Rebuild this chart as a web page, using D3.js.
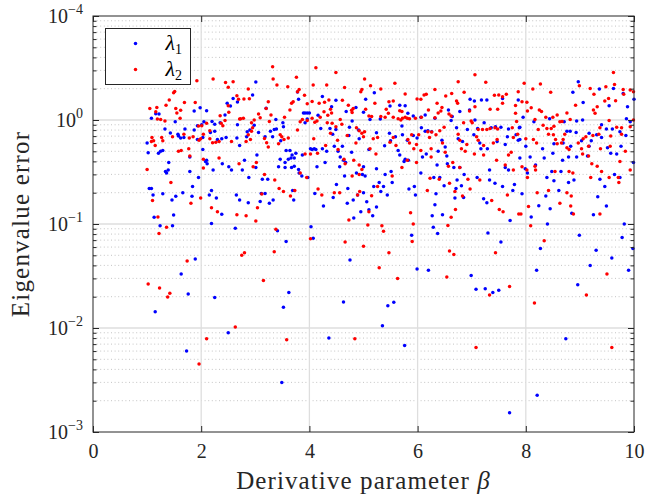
<!DOCTYPE html>
<html>
<head>
<meta charset="utf-8">
<script src="https://cdn.jsdelivr.net/npm/d3@7"></script>
<style>
  body { margin: 0; background: #fff; }
  svg { display: block; font-family: "Liberation Serif", "DejaVu Serif", serif; }
</style>
</head>
<body>
<div id="chart"></div>
<script>
// [beta, eigenvalue error]
const lambda1 = [
  [1.08,1.04],[1.16,1.15],[1.22,1.14],[1.52,0.96],[1.87,1.22],[1.98,1.31],[2.10,1.23],[2.48,1.45],[2.54,1.36],[2.59,1.61],
  [2.44,1.12],[2.35,0.94],[2.25,0.91],[2.20,0.97],[2.05,0.96],[2.01,0.90],[1.93,0.88],[1.87,0.80],[1.70,0.82],[1.33,0.82],
  [1.43,0.75],[1.57,0.73],[1.58,0.70],[1.62,0.67],[1.68,0.68],[1.93,0.65],[2.03,0.68],[2.17,0.76],[2.25,0.78],[2.30,0.65],
  [2.38,0.66],[2.46,0.68],[1.00,0.60],[1.02,0.485],[1.21,0.48],[1.25,0.50],[1.29,0.51],[1.40,0.39],[1.34,0.32],[1.36,0.31],
  [1.39,0.33],[1.79,0.44],[2.03,0.52],[2.08,0.40],[2.10,0.41],[2.11,0.38],[2.39,0.38],[2.51,0.355],[2.56,0.33],[1.79,0.32],
  [1.95,0.28],[2.22,0.33],[1.04,0.22],[1.08,0.22],[1.11,0.19],[1.29,0.195],[1.46,0.17],[1.53,0.185],[1.66,0.20],[1.84,0.23],
  [1.83,0.185],[2.15,0.19],[2.19,0.21],[2.28,0.178],[2.38,0.124],[1.49,0.122],[1.13,0.116],[1.24,0.096],[1.47,0.096],[2.19,0.101],
  [1.89,0.046],[1.63,0.033],
  [3.01,2.32],[2.95,1.74],[2.67,1.49],[3.20,1.30],[3.78,1.86],[3.80,1.58],[3.89,1.17],[3.92,1.17],[3.96,1.17],[4.00,1.17],
  [3.92,0.94],[3.96,1.02],[4.16,1.11],[4.24,1.68],[3.38,1.01],[3.51,0.94],[2.98,0.89],[3.06,0.76],[3.35,0.81],[3.39,0.82],
  [3.28,0.78],[3.32,0.69],[2.85,0.77],[2.90,0.80],[2.84,0.69],[2.66,0.67],[2.71,0.57],[2.67,0.90],[3.18,0.69],[3.47,0.63],
  [3.52,0.86],[3.64,0.51],[3.57,0.51],[3.66,0.43],[3.61,0.42],[3.68,0.46],[3.72,0.43],[3.75,0.48],[3.67,0.35],[3.55,0.39],
  [3.46,0.42],[3.43,0.355],[3.55,0.35],[3.80,0.335],[3.72,0.36],[3.81,0.31],[3.86,0.29],[3.97,0.28],[4.02,0.53],[4.05,0.52],
  [4.09,0.53],[4.12,0.52],[3.87,0.46],[4.14,0.355],[4.21,0.83],[4.24,0.53],[4.32,0.50],[4.29,0.39],[2.80,0.41],[2.76,0.33],
  [2.88,0.28],[3.03,0.46],[3.01,0.35],[3.13,0.27],[3.23,0.27],[2.65,0.19],[2.71,0.17],[2.87,0.16],[3.09,0.165],[3.11,0.197],
  [3.18,0.197],[3.26,0.158],[3.33,0.17],[3.71,0.17],[3.69,0.21],[4.10,0.197],[4.26,0.149],[2.63,0.091],[3.41,0.086],[3.57,0.068],
  [4.03,0.094],[4.07,0.073],
  [4.49,1.55],[5.04,1.58],[5.20,1.83],[5.49,1.36],[5.67,1.39],[5.77,1.37],[5.82,1.16],[5.92,1.09],[6.06,1.06],[4.41,1.34],
  [4.68,1.21],[4.86,1.32],[4.79,0.98],[5.00,1.19],[5.12,1.01],[5.31,1.02],[4.38,0.83],[4.49,0.81],[4.43,0.73],[4.74,0.85],
  [4.91,0.80],[4.73,0.71],[4.92,0.66],[5.24,0.755],[5.48,0.745],[5.59,0.69],[5.72,0.72],[5.71,0.875],[5.81,0.64],[5.92,0.71],
  [5.99,0.67],[6.07,0.84],[4.46,0.56],[4.61,0.56],[4.53,0.50],[4.78,0.49],[5.10,0.52],[5.39,0.565],[5.50,0.63],[5.64,0.51],
  [5.67,0.46],[5.77,0.42],[5.83,0.41],[5.75,0.40],[6.09,0.44],[4.63,0.41],[4.57,0.44],[4.67,0.39],[4.56,0.355],[4.65,0.29],
  [4.87,0.31],[4.98,0.30],[5.03,0.29],[5.00,0.355],[5.24,0.34],[5.40,0.30],[5.51,0.32],[5.53,0.25],[4.50,0.24],[4.71,0.22],
  [5.19,0.23],[5.29,0.25],[5.37,0.23],[5.32,0.205],[5.44,0.19],[5.84,0.217],[5.94,0.23],[5.96,0.19],[6.06,0.31],[4.44,0.18],
  [4.81,0.17],[4.89,0.19],[5.00,0.20],[5.06,0.164],[4.70,0.158],[4.95,0.131],[4.82,0.114],[5.17,0.12],[5.24,0.146],[5.10,0.137],
  [5.89,0.078],[5.99,0.037],[4.75,0.045],
  [6.97,1.58],[7.05,1.52],[7.18,1.56],[7.28,1.56],[7.57,1.61],[6.78,1.21],[6.96,1.25],[6.57,1.25],[6.64,1.08],[6.62,0.99],
  [6.32,1.04],[6.14,1.12],[7.06,1.00],[7.11,0.83],[7.23,0.94],[7.36,0.84],[7.44,0.86],[7.54,0.85],[7.68,0.82],[7.88,0.84],
  [7.86,1.56],[6.72,0.84],[6.92,0.81],[7.04,0.72],[6.75,0.66],[6.83,0.62],[6.45,0.64],[6.51,0.55],[6.38,0.50],[6.19,0.79],
  [6.14,0.78],[6.26,0.77],[7.15,0.60],[7.17,0.53],[7.29,0.53],[7.47,0.62],[7.62,0.58],[7.66,0.69],[7.82,0.72],[7.86,0.64],
  [6.16,0.47],[6.54,0.45],[6.36,0.37],[6.55,0.38],[6.67,0.35],[6.78,0.35],[7.33,0.33],[7.62,0.35],[7.68,0.33],[6.30,0.28],
  [6.41,0.28],[6.49,0.233],[6.71,0.22],[6.73,0.265],[6.81,0.233],[6.86,0.30],[7.10,0.28],[7.33,0.265],[7.43,0.246],[7.57,0.23],
  [7.79,0.24],[7.76,0.21],[6.34,0.195],[6.69,0.178],[6.85,0.18],[7.22,0.175],[7.28,0.16],[6.32,0.153],[6.27,0.12],[6.46,0.123],
  [7.71,0.108],[6.29,0.093],[6.37,0.081],[7.30,0.082],[7.54,0.067],[6.20,0.036],[6.99,0.032],
  [8.97,2.33],[8.87,1.85],[9.06,1.47],[9.36,1.99],[9.62,2.01],[9.80,1.80],[9.54,1.37],[9.88,1.34],[10.0,1.58],[7.95,1.06],
  [8.15,0.96],[8.44,1.03],[8.71,0.96],[9.05,1.00],[8.94,0.98],[9.40,0.90],[9.86,1.03],[9.93,0.96],[7.89,0.85],[8.76,0.78],
  [8.82,0.78],[8.93,0.76],[9.03,0.63],[9.17,0.745],[9.21,0.63],[9.31,0.72],[9.40,0.68],[9.60,0.82],[9.49,0.82],[9.74,0.77],
  [9.85,0.71],[7.89,0.65],[8.00,0.56],[8.31,0.53],[8.52,0.59],[8.50,0.48],[8.69,0.60],[8.83,0.56],[9.17,0.56],[9.14,0.45],
  [9.51,0.54],[9.57,0.48],[9.68,0.47],[9.76,0.56],[7.89,0.43],[8.08,0.44],[8.34,0.43],[8.68,0.41],[8.79,0.44],[8.94,0.44],
  [7.99,0.34],[8.03,0.31],[8.18,0.37],[8.39,0.28],[8.48,0.32],[8.52,0.26],[8.65,0.32],[8.79,0.25],[8.89,0.265],[9.37,0.27],
  [9.46,0.23],[9.64,0.30],[9.74,0.28],[7.93,0.195],[8.37,0.186],[8.61,0.21],[9.33,0.183],[9.49,0.149],[8.45,0.14],[8.10,0.117],
  [8.24,0.15],[8.85,0.127],[9.25,0.123],[8.40,0.10],[9.82,0.10],[8.99,0.078],[9.78,0.074],[8.27,0.058],[9.30,0.056],[9.59,0.047],
  [9.98,0.058],[9.19,0.040],[8.20,0.036],[9.90,0.036],[9.99,0.39],
  [1.15,0.0143],[1.76,0.0212],[2.25,0.0197],[1.73,0.0060],[2.50,0.0090],[3.52,0.0158],[3.62,0.0219],[3.49,0.0030],[4.63,0.0178],[4.36,0.0080],
  [5.35,0.0105],[5.45,0.0164],[5.56,0.0177],[5.76,0.0068],[7.08,0.0236],[7.25,0.0238],[7.39,0.0220],[7.50,0.0231],[7.70,0.00153],[8.21,0.00225],
  [8.74,0.0079],[8.96,0.0261]
];

const lambda2 = [
  [1.92,2.39],[2.22,2.48],[2.45,2.30],[2.59,2.33],[2.50,2.07],[1.49,1.83],[1.51,1.88],[1.41,1.56],[1.35,1.39],[1.69,1.47],
  [1.89,1.47],[1.05,1.29],[1.18,1.32],[1.16,1.20],[1.53,1.29],[1.62,1.24],[1.55,1.17],[2.50,1.37],[2.51,1.19],[2.35,1.10],
  [1.19,1.02],[1.25,1.01],[1.33,0.98],[1.61,1.04],[1.95,0.875],[2.01,0.88],[2.10,0.93],[2.37,0.93],[2.40,0.88],[2.44,0.99],
  [1.09,0.68],[1.12,0.63],[1.08,0.62],[1.27,0.68],[1.29,0.63],[1.47,0.69],[1.68,0.73],[1.78,0.67],[1.85,0.69],[1.96,0.64],
  [1.99,0.66],[2.04,0.73],[2.16,0.79],[2.16,0.66],[2.21,0.605],[2.27,0.61],[2.33,0.62],[2.56,0.62],[1.15,0.57],[1.58,0.50],
  [1.63,0.51],[1.77,0.53],[1.79,0.45],[2.04,0.42],[2.33,0.43],[1.00,0.335],[2.04,0.345],[1.44,0.25],[1.10,0.168],[1.81,0.158],
  [1.99,0.178],[2.19,0.143],[2.30,0.131],[1.20,0.117],[1.36,0.093],[1.22,0.081],[1.74,0.044],
  [3.32,3.26],[4.12,3.18],[3.33,2.48],[3.40,2.17],[3.76,2.57],[3.60,2.09],[3.81,1.97],[3.78,1.87],[4.07,2.17],[4.32,2.17],
  [2.87,1.99],[2.66,1.71],[2.69,1.58],[2.79,1.59],[2.89,1.60],[3.24,1.50],[3.91,1.73],[3.67,1.45],[3.70,1.50],[3.96,1.43],
  [4.05,1.51],[4.18,1.45],[4.28,1.48],[4.36,1.56],[3.20,1.29],[3.64,1.25],[3.54,1.06],[3.06,1.14],[3.29,1.12],[2.73,1.03],
  [2.78,1.04],[2.71,1.02],[2.98,1.00],[3.09,1.05],[2.93,0.94],[2.95,0.84],[2.93,0.78],[2.87,0.72],[2.83,0.62],[2.91,0.65],
  [3.26,0.97],[3.46,0.72],[3.49,0.69],[3.53,0.65],[3.43,0.59],[3.17,0.665],[3.21,0.605],[3.24,0.55],[3.61,0.67],[3.78,0.80],
  [3.87,1.01],[3.83,0.96],[3.96,0.99],[4.05,1.04],[4.10,0.95],[4.14,0.98],[4.20,1.06],[4.27,1.20],[4.34,1.11],[4.33,0.94],
  [4.08,0.66],[4.30,0.57],[3.92,0.47],[4.02,0.47],[4.15,0.48],[2.70,0.38],[3.02,0.39],[2.96,0.355],[3.17,0.30],[3.36,0.265],
  [3.44,0.22],[3.52,0.205],[3.73,0.21],[3.65,0.186],[3.83,0.31],[3.95,0.28],[4.16,0.217],[4.23,0.19],[3.12,0.194],[3.04,0.143],
  [3.01,0.107],[2.83,0.12],[2.66,0.123],[3.38,0.089],[4.02,0.072],[3.35,0.054],[2.80,0.053],[2.75,0.050],
  [4.49,2.87],[5.02,2.48],[5.13,2.14],[4.97,1.97],[4.95,1.87],[4.65,2.05],[5.32,1.99],[5.58,2.25],[5.77,1.78],[5.99,1.59],
  [6.06,1.58],[6.12,1.74],[4.61,1.55],[5.21,1.45],[4.72,1.39],[4.78,1.24],[4.81,1.29],[4.39,1.27],[4.41,1.17],[4.57,1.01],
  [4.79,1.18],[5.04,1.27],[5.10,1.09],[5.15,1.08],[5.32,1.08],[5.47,1.50],[5.55,1.52],[5.42,1.27],[5.46,1.16],[5.40,1.06],
  [5.55,1.06],[5.67,1.23],[5.71,1.21],[5.64,1.03],[5.69,1.00],[5.72,1.04],[5.77,1.06],[5.81,1.04],[5.85,1.03],[5.96,1.04],
  [6.07,1.06],[4.42,0.93],[4.60,0.91],[4.49,0.86],[4.39,0.745],[4.52,0.64],[4.70,0.71],[4.92,0.79],[4.87,0.84],[4.97,0.745],
  [5.00,0.69],[5.02,0.77],[4.86,0.60],[5.18,0.66],[5.26,0.68],[5.12,0.53],[5.23,0.47],[5.49,0.61],[5.55,0.68],[5.60,0.57],
  [5.82,0.65],[5.85,0.60],[5.89,0.72],[5.98,0.58],[6.02,0.72],[5.93,0.53],[6.06,0.51],[4.53,0.52],[4.64,0.42],[4.66,0.38],
  [4.82,0.41],[4.97,0.335],[4.92,0.37],[4.92,0.30],[4.79,0.29],[5.53,0.29],[5.71,0.35],[5.81,0.41],[5.98,0.39],[4.46,0.20],
  [4.56,0.20],[5.15,0.187],[4.93,0.205],[4.89,0.19],[5.10,0.131],[5.26,0.23],[4.73,0.109],[5.08,0.098],[5.34,0.096],[5.37,0.085],
  [5.87,0.128],[5.92,0.10],[5.90,0.068],[4.66,0.067],[5.00,0.061],[5.47,0.053],[5.29,0.038],[5.63,0.030],
  [7.06,2.73],[6.75,2.33],[7.26,2.31],[6.32,1.97],[6.63,1.80],[6.86,1.85],[6.16,1.77],[6.52,1.70],[6.72,1.52],[6.74,1.45],
  [6.36,1.45],[6.45,1.32],[6.43,1.22],[6.38,1.17],[6.20,1.25],[6.32,1.05],[6.58,1.14],[6.62,1.09],[6.96,1.22],[7.06,1.34],
  [7.34,1.27],[7.42,1.73],[7.50,1.74],[7.57,1.67],[7.64,1.77],[7.57,1.45],[7.48,1.27],[7.81,1.16],[7.86,1.87],[7.81,1.38],
  [6.99,0.98],[7.01,0.94],[6.85,0.94],[7.12,0.81],[7.20,0.81],[7.28,0.81],[7.34,0.83],[7.43,0.84],[7.48,0.82],[7.75,0.84],
  [7.83,0.97],[6.41,0.79],[6.49,0.85],[6.26,0.765],[6.19,0.77],[6.34,0.72],[6.22,0.68],[6.46,0.60],[6.75,0.73],[6.78,0.64],
  [7.09,0.69],[7.12,0.64],[7.22,0.57],[6.91,0.58],[6.81,0.53],[6.88,0.50],[6.25,0.53],[6.25,0.44],[6.51,0.49],[7.05,0.47],
  [7.22,0.46],[7.40,0.60],[7.47,0.65],[7.77,0.68],[7.85,0.73],[7.68,0.46],[7.73,0.49],[7.46,0.41],[7.62,0.37],[7.77,0.33],
  [6.65,0.39],[6.57,0.36],[6.78,0.35],[6.93,0.27],[7.15,0.265],[6.23,0.275],[6.40,0.27],[6.59,0.246],[6.18,0.21],[6.69,0.205],
  [6.83,0.186],[6.97,0.217],[7.37,0.168],[7.51,0.138],[7.58,0.131],[7.66,0.19],[7.87,0.125],[6.70,0.138],[6.62,0.116],[6.56,0.097],
  [6.59,0.055],[6.67,0.051],[7.44,0.053],[6.54,0.031],
  [9.62,2.87],[7.97,2.25],[8.27,2.22],[8.13,1.99],[8.46,1.85],[8.99,2.14],[9.19,2.01],[9.48,2.09],[9.64,2.20],[9.80,1.97],
  [9.93,1.94],[9.99,1.87],[9.26,1.77],[9.81,1.77],[7.93,1.50],[8.02,1.48],[8.10,1.31],[8.03,1.22],[8.25,1.25],[8.29,1.21],
  [8.92,1.39],[9.25,1.25],[9.28,1.16],[9.32,1.34],[9.46,1.52],[9.53,1.61],[9.66,1.53],[8.76,1.17],[8.58,1.12],[8.50,1.06],
  [8.37,1.06],[9.54,0.99],[9.99,1.00],[8.82,1.01],[8.63,0.96],[8.17,1.01],[8.32,0.89],[8.39,0.83],[8.47,0.83],[8.52,0.87],
  [8.67,0.97],[8.23,0.81],[9.37,0.84],[9.68,0.85],[9.77,0.84],[9.93,0.86],[8.00,0.66],[8.14,0.65],[8.20,0.60],[8.42,0.73],
  [8.51,0.72],[8.55,0.65],[8.58,0.59],[8.66,0.60],[8.69,0.65],[8.76,0.54],[8.80,0.52],[8.72,0.73],[8.97,0.60],[9.03,0.53],
  [9.06,0.66],[9.16,0.56],[9.11,0.69],[9.24,0.71],[9.35,0.73],[9.57,0.70],[9.77,0.73],[9.05,0.47],[9.16,0.45],[9.38,0.53],
  [9.56,0.56],[9.84,0.50],[9.93,0.33],[9.74,0.40],[7.93,0.355],[8.02,0.33],[8.03,0.28],[8.17,0.36],[8.18,0.33],[8.54,0.32],
  [8.80,0.32],[8.87,0.31],[9.20,0.28],[9.22,0.38],[9.32,0.36],[9.40,0.32],[9.54,0.28],[9.71,0.28],[9.72,0.25],[8.21,0.20],
  [8.42,0.21],[8.76,0.20],[8.84,0.186],[8.63,0.158],[8.83,0.149],[8.88,0.125],[9.37,0.125],[8.05,0.147],[7.91,0.125],[8.09,0.096],
  [8.34,0.069],[9.50,0.033],
  [1.02,0.0265],[1.23,0.0243],[1.42,0.0216],[1.38,0.0199],[3.15,0.0286],[2.63,0.0102],[2.10,0.0079],[1.96,0.0045],[3.58,0.0077],[4.84,0.0079],
  [7.08,0.0065],[7.33,0.0208],[7.70,0.025],[8.16,0.0174],[9.12,0.0208],[9.59,0.0065]
];

const xTicks = [0, 2, 4, 6, 8, 10];
const yTickValues = [1e-3, 1e-2, 1e-1, 1, 10];
const yTickExponents = ["\u22123", "\u22122", "\u22121", "0", "\u22124"];
const legendSubscripts = ["1", "2"];

const svgWidth = 649, svgHeight = 497,
    margin = { top: 16, right: 15, bottom: 65, left: 93 },
    width = svgWidth - margin.left - margin.right,
    height = svgHeight - margin.top - margin.bottom;

const axisColor = "#262626";

const svg = d3.select("#chart").append("svg")
    .attr("width", svgWidth)
    .attr("height", svgHeight);

const g = svg.append("g")
    .attr("transform", "translate(" + margin.left + "," + margin.top + ")");

const x = d3.scaleLinear().domain([0, 10]).range([0, width]);
const y = d3.scaleLog().domain([1e-3, 10]).range([height, 0]);

const isDecade = v => Math.abs(Math.log10(v) - Math.round(Math.log10(v))) < 1e-9;
const minorTicks = y.ticks().filter(v => !isDecade(v));

// grid: dotted minor lines, solid major lines
g.append("g").selectAll("line")
    .data(minorTicks)
    .join("line")
    .attr("x1", 0).attr("x2", width)
    .attr("y1", d => y(d)).attr("y2", d => y(d))
    .attr("stroke", "#c4c4c4")
    .attr("stroke-width", 1)
    .attr("stroke-dasharray", "1,2.6");

g.append("g").selectAll("line")
    .data(yTickValues.slice(1, -1))
    .join("line")
    .attr("x1", 0).attr("x2", width)
    .attr("y1", d => y(d)).attr("y2", d => y(d))
    .attr("stroke", "#dedede")
    .attr("stroke-width", 1.3);

g.append("g").selectAll("line")
    .data(xTicks.slice(1, -1))
    .join("line")
    .attr("x1", d => x(d)).attr("x2", d => x(d))
    .attr("y1", 0).attr("y2", height)
    .attr("stroke", "#dedede")
    .attr("stroke-width", 1.3);

// scatter points
const series = [
    { data: lambda1, color: "#0000ff" },
    { data: lambda2, color: "#ff0000" }
];
series.forEach(s => {
    g.append("g").selectAll("circle")
        .data(s.data)
        .join("circle")
        .attr("cx", d => x(d[0]))
        .attr("cy", d => y(d[1]))
        .attr("r", 1.75)
        .attr("fill", s.color);
});

// ticks on all four sides, pointing inwards
function styleAxis(sel) {
    sel.select(".domain").remove();
    sel.selectAll(".tick line").attr("stroke", axisColor);
}
g.append("g").call(d3.axisLeft(y).tickValues(yTickValues).tickSize(-6).tickFormat("")).call(styleAxis);
g.append("g").call(d3.axisLeft(y).tickValues(minorTicks).tickSize(-3.5).tickFormat("")).call(styleAxis);
g.append("g").attr("transform", "translate(" + width + ",0)")
    .call(d3.axisRight(y).tickValues(yTickValues).tickSize(-6).tickFormat("")).call(styleAxis);
g.append("g").attr("transform", "translate(" + width + ",0)")
    .call(d3.axisRight(y).tickValues(minorTicks).tickSize(-3.5).tickFormat("")).call(styleAxis);
g.append("g").call(d3.axisTop(x).tickValues(xTicks).tickSize(-6).tickFormat("")).call(styleAxis);

const xAxis = g.append("g")
    .attr("transform", "translate(0," + height + ")")
    .call(d3.axisBottom(x).tickValues(xTicks).tickSize(-6).tickPadding(12).tickFormat(d3.format("d")))
    .call(styleAxis);
xAxis.selectAll("text")
    .attr("fill", axisColor)
    .style("font-size", "20px")
    .style("font-family", "'Liberation Serif', serif");

// y tick labels as 10^n
const yLab = g.append("g").selectAll("text")
    .data(yTickValues)
    .join("text")
    .attr("x", -10)
    .attr("y", d => y(d) + 7)
    .attr("text-anchor", "end")
    .attr("fill", axisColor)
    .style("font-size", "20px");
yLab.append("tspan").text("10");
yLab.append("tspan")
    .attr("dy", -9)
    .style("font-size", "14px")
    .text((d, i) => yTickExponents[i]);

// axes box
g.append("rect")
    .attr("x", 0).attr("y", 0)
    .attr("width", width).attr("height", height)
    .attr("fill", "none")
    .attr("stroke", axisColor)
    .attr("stroke-width", 1);

// axis titles
svg.append("text")
    .attr("x", margin.left + width / 2)
    .attr("y", 489)
    .attr("text-anchor", "middle")
    .attr("fill", axisColor)
    .style("font-size", "25px")
    .style("letter-spacing", "1.1px")
    .call(t => {
        t.append("tspan").text("Derivative parameter ");
        t.append("tspan").style("font-style", "italic").text("\u03b2");
    });

svg.append("text")
    .attr("transform", "translate(29," + (margin.top + height / 2) + ") rotate(-90)")
    .attr("text-anchor", "middle")
    .attr("fill", axisColor)
    .style("font-size", "25px")
    .style("letter-spacing", "1.2px")
    .text("Eigenvalue error");

// legend
const legend = svg.append("g").attr("transform", "translate(105.5,28.5)");
legend.append("rect")
    .attr("width", 85).attr("height", 56)
    .attr("fill", "#fff")
    .attr("stroke", axisColor)
    .attr("stroke-width", 1);
const entries = legend.selectAll("g.entry")
    .data(series)
    .join("g")
    .attr("class", "entry")
    .attr("transform", (d, i) => "translate(0," + (15 + i * 26) + ")");
entries.append("circle")
    .attr("cx", 30).attr("cy", 0)
    .attr("r", 1.75)
    .attr("fill", d => d.color);
const lt = entries.append("text")
    .attr("x", 60).attr("y", 6)
    .attr("fill", "#000")
    .style("font-size", "22px");
lt.append("tspan").style("font-style", "italic").text("\u03bb");
lt.append("tspan").attr("dy", 4).style("font-size", "14px").text((d, i) => legendSubscripts[i]);
</script>
</body>
</html>
